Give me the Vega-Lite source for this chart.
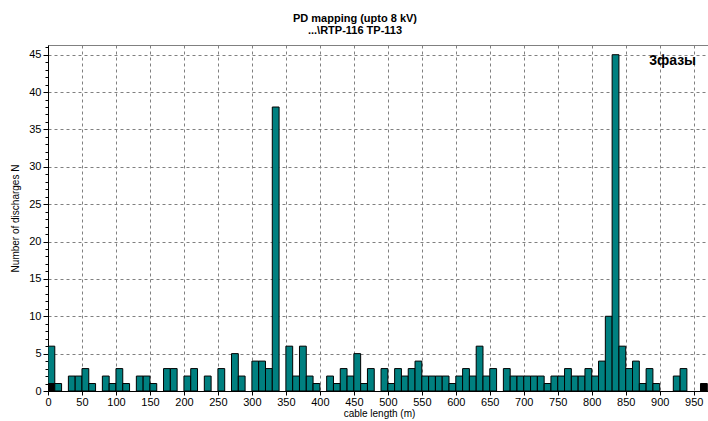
{
  "$schema": "https://vega.github.io/schema/vega-lite/v6.json",
  "width": 662,
  "height": 346,
  "autosize": "none",
  "padding": {"left": 48, "top": 45, "right": 0, "bottom": 30},
  "background": "white",
  "title": {
    "text": ["PD mapping (upto 8 kV)", "...\\RTP-116 TP-113"],
    "font": "Liberation Sans",
    "fontSize": 11,
    "fontWeight": "bold",
    "color": "black",
    "anchor": "middle",
    "dx": -24,
    "offset": 9,
    "lineHeight": 12
  },
  "config": {
    "view": {"stroke": "#808080", "strokeWidth": 1},
    "axis": {
      "labelFont": "Liberation Sans",
      "titleFont": "Liberation Sans",
      "labelColor": "black",
      "titleColor": "black",
      "domainColor": "black",
      "tickColor": "black",
      "gridColor": "#808080",
      "gridDash": [3, 3],
      "gridOpacity": 1,
      "labelFontSize": 11,
      "titleFontSize": 10,
      "titleFontWeight": "normal"
    }
  },
  "datasets": {
    "bins": [
      {"start": 0, "end": 10, "n": 6, "kind": "b"},
      {"start": 0, "end": 10, "n": 1, "kind": "a"},
      {"start": 10, "end": 20, "n": 1, "kind": "b"},
      {"start": 30, "end": 40, "n": 2, "kind": "b"},
      {"start": 40, "end": 50, "n": 2, "kind": "b"},
      {"start": 50, "end": 60, "n": 3, "kind": "b"},
      {"start": 60, "end": 70, "n": 1, "kind": "b"},
      {"start": 80, "end": 90, "n": 2, "kind": "b"},
      {"start": 90, "end": 100, "n": 1, "kind": "b"},
      {"start": 100, "end": 110, "n": 3, "kind": "b"},
      {"start": 110, "end": 120, "n": 1, "kind": "b"},
      {"start": 130, "end": 140, "n": 2, "kind": "b"},
      {"start": 140, "end": 150, "n": 2, "kind": "b"},
      {"start": 150, "end": 160, "n": 1, "kind": "b"},
      {"start": 170, "end": 180, "n": 3, "kind": "b"},
      {"start": 180, "end": 190, "n": 3, "kind": "b"},
      {"start": 200, "end": 210, "n": 2, "kind": "b"},
      {"start": 210, "end": 220, "n": 3, "kind": "b"},
      {"start": 230, "end": 240, "n": 2, "kind": "b"},
      {"start": 250, "end": 260, "n": 3, "kind": "b"},
      {"start": 270, "end": 280, "n": 5, "kind": "b"},
      {"start": 280, "end": 290, "n": 2, "kind": "b"},
      {"start": 300, "end": 310, "n": 4, "kind": "b"},
      {"start": 310, "end": 320, "n": 4, "kind": "b"},
      {"start": 320, "end": 330, "n": 3, "kind": "b"},
      {"start": 330, "end": 340, "n": 38, "kind": "b"},
      {"start": 350, "end": 360, "n": 6, "kind": "b"},
      {"start": 360, "end": 370, "n": 2, "kind": "b"},
      {"start": 370, "end": 380, "n": 6, "kind": "b"},
      {"start": 380, "end": 390, "n": 2, "kind": "b"},
      {"start": 390, "end": 400, "n": 1, "kind": "b"},
      {"start": 410, "end": 420, "n": 2, "kind": "b"},
      {"start": 420, "end": 430, "n": 1, "kind": "b"},
      {"start": 430, "end": 440, "n": 3, "kind": "b"},
      {"start": 440, "end": 450, "n": 2, "kind": "b"},
      {"start": 450, "end": 460, "n": 5, "kind": "b"},
      {"start": 460, "end": 470, "n": 1, "kind": "b"},
      {"start": 470, "end": 480, "n": 3, "kind": "b"},
      {"start": 490, "end": 500, "n": 3, "kind": "b"},
      {"start": 500, "end": 510, "n": 1, "kind": "b"},
      {"start": 510, "end": 520, "n": 3, "kind": "b"},
      {"start": 520, "end": 530, "n": 2, "kind": "b"},
      {"start": 530, "end": 540, "n": 3, "kind": "b"},
      {"start": 540, "end": 550, "n": 4, "kind": "b"},
      {"start": 550, "end": 560, "n": 2, "kind": "b"},
      {"start": 560, "end": 570, "n": 2, "kind": "b"},
      {"start": 570, "end": 580, "n": 2, "kind": "b"},
      {"start": 580, "end": 590, "n": 2, "kind": "b"},
      {"start": 590, "end": 600, "n": 1, "kind": "b"},
      {"start": 600, "end": 610, "n": 2, "kind": "b"},
      {"start": 610, "end": 620, "n": 3, "kind": "b"},
      {"start": 620, "end": 630, "n": 2, "kind": "b"},
      {"start": 630, "end": 640, "n": 6, "kind": "b"},
      {"start": 640, "end": 650, "n": 2, "kind": "b"},
      {"start": 650, "end": 660, "n": 3, "kind": "b"},
      {"start": 670, "end": 680, "n": 3, "kind": "b"},
      {"start": 680, "end": 690, "n": 2, "kind": "b"},
      {"start": 690, "end": 700, "n": 2, "kind": "b"},
      {"start": 700, "end": 710, "n": 2, "kind": "b"},
      {"start": 710, "end": 720, "n": 2, "kind": "b"},
      {"start": 720, "end": 730, "n": 2, "kind": "b"},
      {"start": 730, "end": 740, "n": 1, "kind": "b"},
      {"start": 740, "end": 750, "n": 2, "kind": "b"},
      {"start": 750, "end": 760, "n": 2, "kind": "b"},
      {"start": 760, "end": 770, "n": 3, "kind": "b"},
      {"start": 770, "end": 780, "n": 2, "kind": "b"},
      {"start": 780, "end": 790, "n": 2, "kind": "b"},
      {"start": 790, "end": 800, "n": 3, "kind": "b"},
      {"start": 800, "end": 810, "n": 2, "kind": "b"},
      {"start": 810, "end": 820, "n": 4, "kind": "b"},
      {"start": 820, "end": 830, "n": 10, "kind": "b"},
      {"start": 830, "end": 840, "n": 45, "kind": "b"},
      {"start": 840, "end": 850, "n": 6, "kind": "b"},
      {"start": 850, "end": 860, "n": 3, "kind": "b"},
      {"start": 860, "end": 870, "n": 4, "kind": "b"},
      {"start": 870, "end": 880, "n": 1, "kind": "b"},
      {"start": 880, "end": 890, "n": 3, "kind": "b"},
      {"start": 890, "end": 900, "n": 1, "kind": "b"},
      {"start": 920, "end": 930, "n": 2, "kind": "b"},
      {"start": 930, "end": 940, "n": 3, "kind": "b"},
      {"start": 960, "end": 970, "n": 1, "kind": "a"}
    ],
    "note": [{"x": 919, "y": 44.2, "label": "3фазы"}]
  },
  "resolve": {"axis": {"y": "independent"}},
  "layer": [
    {
      "data": {"name": "bins"},
      "mark": {"type": "bar", "stroke": "black", "strokeWidth": 1, "clip": true},
      "encoding": {
        "x": {
          "field": "start",
          "type": "quantitative",
          "scale": {"domain": [0, 974], "nice": false, "zero": false},
          "axis": {
            "values": [0, 50, 100, 150, 200, 250, 300, 350, 400, 450, 500, 550, 600, 650, 700, 750, 800, 850, 900, 950],
            "title": "cable length (m)",
            "tickSize": 4,
            "labelPadding": 1,
            "titlePadding": 1,
            "grid": true,
            "labelFlush": false,
            "labelOverlap": false
          }
        },
        "x2": {"field": "end"},
        "y": {
          "field": "n",
          "type": "quantitative",
          "stack": null,
          "scale": {"domain": [0, 46.3], "nice": false},
          "axis": {
            "orient": "left",
            "values": [0, 5, 10, 15, 20, 25, 30, 35, 40, 45],
            "tickSize": 5,
            "grid": true,
            "title": "Number of discharges N",
            "titlePadding": 8,
            "labelPadding": 2,
            "labelOverlap": false,
            "labelFlush": false
          }
        },
        "y2": {"datum": 0},
        "color": {
          "field": "kind",
          "type": "nominal",
          "scale": {"domain": ["a", "b"], "range": ["#000000", "#008080"]},
          "legend": null
        }
      }
    },
    {
      "data": {"name": "note"},
      "mark": {"type": "text", "font": "Liberation Sans", "fontSize": 14, "fontWeight": "bold", "color": "black", "align": "center", "baseline": "middle"},
      "encoding": {
        "x": {
          "field": "x",
          "type": "quantitative",
          "axis": {
            "values": [0, 50, 100, 150, 200, 250, 300, 350, 400, 450, 500, 550, 600, 650, 700, 750, 800, 850, 900, 950],
            "title": "cable length (m)",
            "tickSize": 4,
            "labelPadding": 1,
            "titlePadding": 1,
            "grid": true,
            "labelFlush": false,
            "labelOverlap": false
          }
        },
        "y": {
          "field": "y",
          "type": "quantitative",
          "axis": {
            "orient": "left",
            "values": [0, 1, 2, 3, 4, 6, 7, 8, 9, 11, 12, 13, 14, 16, 17, 18, 19, 21, 22, 23, 24, 26, 27, 28, 29, 31, 32, 33, 34, 36, 37, 38, 39, 41, 42, 43, 44, 46],
            "labels": false,
            "title": null,
            "grid": false,
            "domain": false,
            "tickSize": 3
          }
        },
        "text": {"field": "label"}
      }
    }
  ]
}
